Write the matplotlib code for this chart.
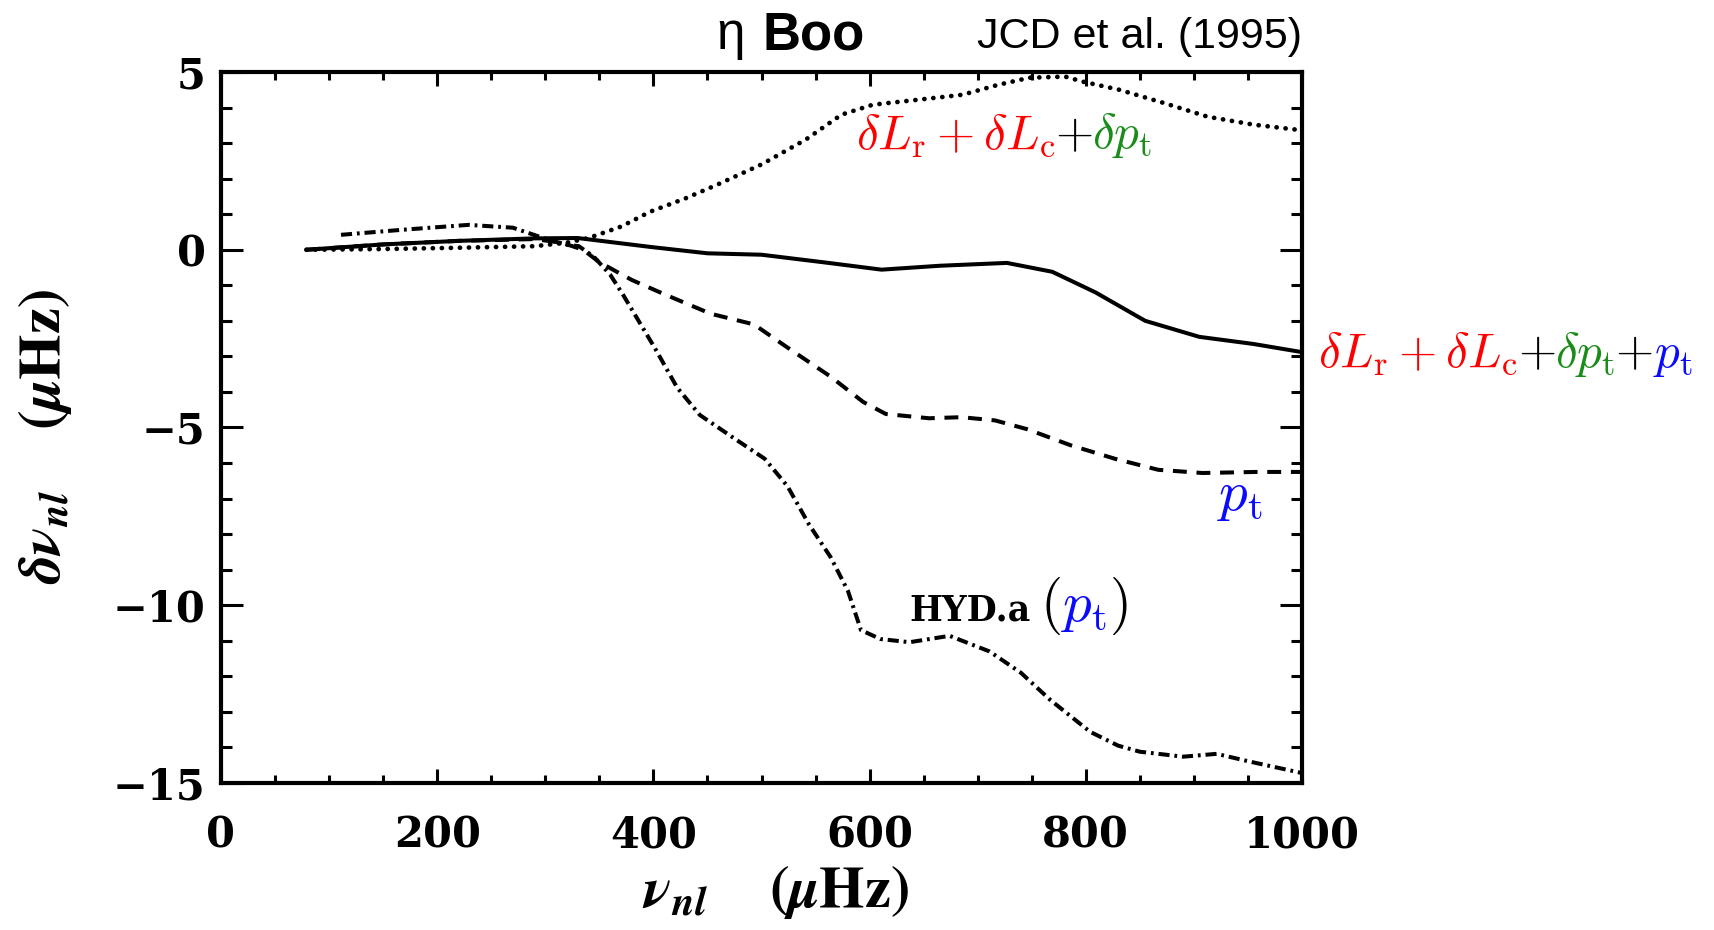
import numpy as np
import matplotlib.pyplot as plt
import matplotlib.transforms as mtransforms
from matplotlib.ticker import MultipleLocator

# frequency differences of eta Boo models
nu_full = [79, 150, 220, 290, 330, 397, 450, 500, 562, 611, 665, 727, 769, 809, 855, 905, 955, 1000]
dnu_full = [0.0, 0.15, 0.25, 0.32, 0.33, 0.08, -0.1, -0.14, -0.37, -0.56, -0.45, -0.37, -0.62, -1.2,
            -2.0, -2.45, -2.65, -2.88]

nu_lum = [79, 150, 210, 290, 320, 340, 370, 397, 430, 459, 500, 541, 574, 603, 645, 686, 719, 748,
          781, 797, 831, 872, 913, 955, 1000]
dnu_lum = [0.0, 0.02, 0.05, 0.1, 0.2, 0.33, 0.65, 1.07, 1.45, 1.83, 2.4, 3.1, 3.8, 4.08, 4.22, 4.36,
           4.64, 4.84, 4.87, 4.73, 4.5, 4.13, 3.74, 3.52, 3.36]

nu_pt = [79, 150, 220, 290, 315, 335, 350, 380, 410, 453, 493, 524, 564, 594, 615, 655, 685, 716,
         746, 786, 827, 867, 908, 958, 1000]
dnu_pt = [0.0, 0.15, 0.25, 0.3, 0.2, 0.0, -0.35, -0.85, -1.25, -1.8, -2.1, -2.75, -3.57, -4.28,
          -4.62, -4.74, -4.71, -4.8, -5.05, -5.5, -5.88, -6.19, -6.28, -6.25, -6.25]

nu_hyd = [111, 167, 229, 270, 303, 320, 331, 345, 360, 372, 402, 422, 443, 473, 503, 524, 544, 564,
          580, 592, 610, 637, 674, 711, 740, 767, 804, 830, 850, 890, 921, 952, 1000]
dnu_hyd = [0.42, 0.56, 0.7, 0.62, 0.28, 0.14, 0.1, -0.2, -0.7, -1.27, -2.8, -3.88, -4.65, -5.27,
           -5.88, -6.65, -7.73, -8.65, -9.6, -10.7, -10.95, -11.04, -10.86, -11.3, -11.9, -12.66,
           -13.56, -13.95, -14.12, -14.26, -14.18, -14.4, -14.72]

plt.rcParams['mathtext.fontset'] = 'cm'
plt.rcParams['lines.scale_dashes'] = False
plt.rcParams['font.family'] = 'DejaVu Serif'
plt.rcParams['font.weight'] = 'bold'

W, H = 1714, 930
fig = plt.figure(figsize=(W / 100, H / 100), dpi=100)
ax = fig.add_axes([221 / W, 1 - 783 / H, (1302 - 221) / W, (783 - 72) / H])

ax.plot(nu_full, dnu_full, color='k', lw=2.9, solid_capstyle='round')
ax.plot(nu_lum, dnu_lum, color='k', lw=3.4, linestyle=(0, (0.1, 6.4)), dash_capstyle='round')
ax.plot(nu_pt, dnu_pt, color='k', lw=2.9, linestyle=(0, (10, 7)), dash_capstyle='butt')
ax.plot(nu_hyd, dnu_hyd, color='k', lw=2.9, linestyle=(0, (8, 3.5, 2, 3.5)), dash_capstyle='butt')

ax.set_xlim(0, 1000)
ax.set_ylim(-15, 5)
ax.xaxis.set_major_locator(MultipleLocator(200))
ax.xaxis.set_minor_locator(MultipleLocator(50))
ax.yaxis.set_major_locator(MultipleLocator(5))
ax.yaxis.set_minor_locator(MultipleLocator(1))
ax.tick_params(which='both', direction='in', top=True, right=True, width=2.2, labelsize=30)
ax.tick_params(axis='x', which='major', length=10, pad=23)
ax.tick_params(axis='x', which='minor', length=6)
ax.tick_params(axis='y', which='major', length=16, pad=11)
ax.tick_params(axis='y', which='minor', length=8)
for sp in ax.spines.values():
    sp.set_linewidth(3)

ax.set_xlabel(r'$\boldsymbol{\nu}_{\boldsymbol{nl}}\quad\ (\boldsymbol{\mu}\mathbf{Hz})$',
              fontsize=42, math_fontfamily='stix')
ax.set_ylabel(r'$\boldsymbol{\delta\nu}_{\boldsymbol{nl}}\quad\ (\boldsymbol{\mu}\mathbf{Hz})$',
              fontsize=42, math_fontfamily='stix')
ax.xaxis.set_label_coords(0.513, -0.112)
ax.yaxis.set_label_coords(-0.136, 0.487)

# title pieces
fig.text(716 / W, 1 - 49 / H, 'η', fontfamily='Liberation Sans', fontweight='normal',
         fontsize=37, ha='left', va='baseline')
fig.text(763 / W, 1 - 49 / H, 'Boo', fontfamily='Liberation Sans', fontweight='bold',
         fontsize=38, ha='left', va='baseline')
fig.text(1302 / W, 1 - 48 / H, 'JCD et al. (1995)', fontfamily='Liberation Sans',
         fontweight='normal', fontsize=31, ha='right', va='baseline')

RED, GREEN, BLUE = '#ff0000', '#1a8c1a', '#0a0aff'
renderer = fig.canvas.get_renderer()


def put_parts(x, y, parts):
    # draw coloured pieces one after another on a common baseline
    dx = 0
    for s, col, size, gap in parts:
        dx += gap
        tr = mtransforms.offset_copy(ax.transData, fig=fig, x=dx, y=0, units='dots')
        t = ax.text(x, y, s, color=col, fontsize=size, transform=tr,
                    ha='left', va='baseline', clip_on=False)
        dx += t.get_window_extent(renderer).width


put_parts(587, 2.85, [(r'$\delta L_{\rm r} + \delta L_{\rm c}$', RED, 35.5, 0),
                      (r'$+$', 'k', 35.5, 0),
                      (r'$\delta p_{\rm t}$', GREEN, 35.5, 0)])
put_parts(1015, -3.29, [(r'$\delta L_{\rm r} + \delta L_{\rm c}$', RED, 35.5, 0),
                        (r'$+$', 'k', 35.5, 0),
                        (r'$\delta p_{\rm t}$', GREEN, 35.5, 0),
                        (r'$+$', 'k', 35.5, 0),
                        (r'$p_{\rm t}$', BLUE, 35.5, 0)])
put_parts(921, -7.31, [(r'$p_{\rm t}$', BLUE, 41, 0)])
put_parts(637, -10.44, [('HYD.a', 'k', 25, 0),
                        (r'$($', 'k', 41, 9),
                        (r'$p_{\rm t}$', BLUE, 41, 0),
                        (r'$)$', 'k', 41, 2)])

fig.savefig('out.png', dpi=100)
